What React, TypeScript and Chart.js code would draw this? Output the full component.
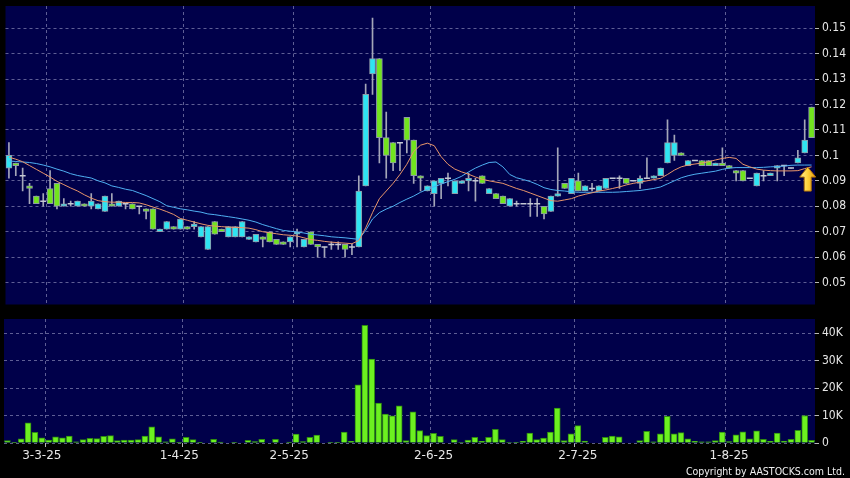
import React, { useEffect, useRef } from "react";
import { Chart, registerables } from "chart.js";
Chart.register(...registerables);

// ---- data ----
const opens = [
  0.095, 0.097, 0.092, 0.088, 0.084, 0.082, 0.087, 0.089, 0.080, 0.081,
  0.080, 0.081, 0.080, 0.079, 0.078, 0.081, 0.080, 0.081, 0.081, 0.080,
  0.079, 0.079, 0.070, 0.071, 0.072, 0.071, 0.072, 0.072, 0.068, 0.063,
  0.074, 0.071, 0.068, 0.068, 0.068, 0.067, 0.066, 0.068, 0.070, 0.067,
  0.066, 0.066, 0.069, 0.064, 0.070, 0.065, 0.064, 0.065, 0.065, 0.065,
  0.064, 0.064, 0.088, 0.132, 0.138, 0.107, 0.105, 0.105, 0.115, 0.106,
  0.092, 0.086, 0.085, 0.089, 0.091, 0.085, 0.089, 0.090, 0.090, 0.092,
  0.085, 0.085, 0.084, 0.080, 0.081, 0.081, 0.081, 0.081, 0.080, 0.078,
  0.084, 0.089, 0.085, 0.090, 0.086, 0.087, 0.086, 0.087, 0.091, 0.091,
  0.091, 0.090, 0.089, 0.091, 0.091, 0.092, 0.097, 0.100, 0.101, 0.096,
  0.098, 0.098, 0.098, 0.096, 0.097, 0.096, 0.094, 0.094, 0.091, 0.088,
  0.092, 0.092, 0.095, 0.096, 0.095, 0.097, 0.101, 0.119,
];
const highs = [
  0.105, 0.097, 0.095, 0.089, 0.084, 0.085, 0.094, 0.089, 0.083, 0.082,
  0.082, 0.081, 0.085, 0.081, 0.084, 0.085, 0.082, 0.081, 0.081, 0.080,
  0.079, 0.079, 0.071, 0.074, 0.072, 0.075, 0.072, 0.074, 0.072, 0.072,
  0.074, 0.071, 0.072, 0.072, 0.074, 0.068, 0.069, 0.068, 0.070, 0.067,
  0.066, 0.068, 0.071, 0.067, 0.070, 0.065, 0.064, 0.066, 0.066, 0.065,
  0.065, 0.092, 0.128, 0.154, 0.138, 0.117, 0.105, 0.105, 0.115, 0.106,
  0.092, 0.088, 0.090, 0.091, 0.093, 0.090, 0.090, 0.093, 0.091, 0.092,
  0.087, 0.085, 0.084, 0.083, 0.082, 0.081, 0.083, 0.083, 0.080, 0.084,
  0.103, 0.089, 0.091, 0.093, 0.088, 0.089, 0.088, 0.091, 0.091, 0.092,
  0.091, 0.090, 0.092, 0.099, 0.092, 0.095, 0.114, 0.108, 0.101, 0.098,
  0.098, 0.098, 0.098, 0.097, 0.103, 0.096, 0.094, 0.094, 0.091, 0.093,
  0.094, 0.093, 0.096, 0.096, 0.095, 0.102, 0.114, 0.119,
];
const lows = [
  0.091, 0.092, 0.086, 0.081, 0.081, 0.080, 0.081, 0.079, 0.080, 0.080,
  0.080, 0.080, 0.079, 0.079, 0.078, 0.080, 0.080, 0.079, 0.079, 0.077,
  0.075, 0.071, 0.070, 0.071, 0.071, 0.071, 0.071, 0.071, 0.068, 0.063,
  0.069, 0.070, 0.068, 0.068, 0.068, 0.067, 0.066, 0.064, 0.066, 0.065,
  0.065, 0.064, 0.064, 0.064, 0.065, 0.060, 0.060, 0.063, 0.063, 0.060,
  0.061, 0.064, 0.088, 0.124, 0.097, 0.091, 0.094, 0.094, 0.101, 0.089,
  0.086, 0.086, 0.080, 0.083, 0.088, 0.085, 0.089, 0.086, 0.082, 0.089,
  0.085, 0.083, 0.081, 0.080, 0.080, 0.081, 0.076, 0.076, 0.075, 0.078,
  0.084, 0.087, 0.085, 0.086, 0.086, 0.086, 0.086, 0.087, 0.091, 0.087,
  0.089, 0.090, 0.087, 0.091, 0.091, 0.092, 0.097, 0.098, 0.100, 0.096,
  0.098, 0.096, 0.096, 0.096, 0.096, 0.095, 0.090, 0.090, 0.091, 0.088,
  0.090, 0.092, 0.090, 0.092, 0.095, 0.097, 0.101, 0.107,
];
const closes = [
  0.100, 0.096, 0.092, 0.087, 0.081, 0.082, 0.081, 0.080, 0.081, 0.081,
  0.082, 0.080, 0.082, 0.081, 0.084, 0.080, 0.082, 0.081, 0.079, 0.080,
  0.078, 0.071, 0.071, 0.074, 0.071, 0.075, 0.071, 0.073, 0.072, 0.072,
  0.069, 0.070, 0.072, 0.072, 0.074, 0.068, 0.069, 0.067, 0.066, 0.065,
  0.065, 0.068, 0.070, 0.067, 0.065, 0.064, 0.064, 0.065, 0.065, 0.063,
  0.064, 0.086, 0.124, 0.138, 0.107, 0.100, 0.097, 0.105, 0.106, 0.092,
  0.091, 0.088, 0.090, 0.091, 0.091, 0.090, 0.090, 0.091, 0.090, 0.089,
  0.087, 0.083, 0.081, 0.083, 0.081, 0.081, 0.081, 0.081, 0.077, 0.084,
  0.085, 0.087, 0.091, 0.086, 0.088, 0.087, 0.088, 0.091, 0.091, 0.091,
  0.089, 0.090, 0.091, 0.091, 0.092, 0.095, 0.105, 0.105, 0.100, 0.098,
  0.098, 0.096, 0.096, 0.097, 0.096, 0.095, 0.093, 0.090, 0.091, 0.093,
  0.092, 0.093, 0.096, 0.096, 0.095, 0.099, 0.106, 0.107,
];
// volume in thousands of shares
const volumesK = [
  0.9, 0.1, 1.5, 7.3, 3.9, 1.9, 1.1, 2.2, 1.9, 2.5,
  0.4, 1.2, 1.7, 1.6, 2.4, 2.7, 0.85, 1.1, 1.1, 1.2,
  2.5, 5.9, 2.2, 0.4, 1.5, 0.1, 2.1, 1.2, 0.05, 0,
  1.3, 0.3, 0, 0.05, 0, 1.0, 0.5, 1.3, 0, 1.3,
  0, 0.3, 3.2, 0.5, 2.1, 2.9, 0, 0.1, 0.1, 4.0,
  0.6, 21.2, 42.8, 30.5, 14.5, 10.5, 9.9, 13.5, 0.85, 11.3,
  4.5, 2.7, 3.5, 2.4, 0, 1.2, 0.2, 1.1, 2.1, 0.6,
  2.1, 5.0, 1.2, 0.2, 0.1, 0.6, 3.6, 1.2, 1.8, 4.0,
  12.7, 0.9, 3.3, 6.3, 0.7, 0, 0, 2.1, 2.5, 2.2,
  0, 0, 0.85, 4.2, 0.4, 3.3, 9.7, 3.3, 3.8, 1.5,
  0.6, 0.4, 0.4, 0.85, 4.0, 0.5, 3.0, 4.1, 1.5, 4.4,
  1.3, 0.6, 3.6, 0.7, 1.3, 4.6, 10.0, 1.0,
];
const maShort = [
  0.0993, 0.0985, 0.0975, 0.0960, 0.0945, 0.0930, 0.0915, 0.0898, 0.0885, 0.0872,
  0.0860, 0.0845, 0.0832, 0.0822, 0.0818, 0.0816, 0.0816, 0.0815, 0.0815, 0.0813,
  0.0806, 0.0797, 0.0789, 0.0779, 0.0768, 0.0752, 0.0745, 0.0738, 0.0731, 0.0725,
  0.0722, 0.0720, 0.0718, 0.0717, 0.0716, 0.0714, 0.0708, 0.0700, 0.0696, 0.0692,
  0.0688, 0.0686, 0.0683, 0.0676, 0.0669, 0.0666, 0.0662, 0.0659, 0.0657, 0.0655,
  0.0653, 0.0665, 0.0715, 0.0775, 0.0830, 0.0860, 0.0890, 0.0925, 0.0965, 0.1015,
  0.1040, 0.1048, 0.1038, 0.0995, 0.0965, 0.0946, 0.0935, 0.0926, 0.0915, 0.0906,
  0.0900, 0.0895, 0.0890, 0.0880, 0.0870, 0.0862, 0.0852, 0.0842, 0.0832, 0.0822,
  0.0820, 0.0825, 0.0830, 0.0840, 0.0847, 0.0853, 0.0860, 0.0864, 0.0870, 0.0876,
  0.0884, 0.0890, 0.0895, 0.0900, 0.0905, 0.0910, 0.0925, 0.0942, 0.0955, 0.0962,
  0.0966, 0.0970, 0.0975, 0.0982, 0.0988, 0.0992, 0.0988, 0.0965, 0.0955, 0.0946,
  0.0942, 0.0940, 0.0939, 0.0939, 0.0939, 0.0940, 0.0948, 0.0955,
];
const maLong = [
  0.0978, 0.0976, 0.0974, 0.0972, 0.0968, 0.0962, 0.0955, 0.0946, 0.0938, 0.0928,
  0.0921, 0.0916, 0.0911, 0.0900, 0.0892, 0.0880, 0.0874, 0.0867, 0.0862, 0.0852,
  0.0842, 0.0830, 0.0818, 0.0802, 0.0796, 0.0790, 0.0786, 0.0781, 0.0777, 0.0770,
  0.0767, 0.0763, 0.0759, 0.0755, 0.0750, 0.0745, 0.0738, 0.0728, 0.0720, 0.0712,
  0.0705, 0.0702, 0.0699, 0.0695, 0.0690, 0.0687, 0.0684, 0.0680, 0.0678, 0.0676,
  0.0673, 0.0670, 0.0705, 0.0750, 0.0775, 0.0789, 0.0800, 0.0815, 0.0828, 0.0840,
  0.0855, 0.0867, 0.0877, 0.0887, 0.0897, 0.0906, 0.0918, 0.0935, 0.0950, 0.0962,
  0.0972, 0.0974, 0.0955, 0.0925, 0.0912, 0.0905, 0.0897, 0.0886, 0.0873, 0.0866,
  0.0862, 0.0860, 0.0857, 0.0855, 0.0855, 0.0855, 0.0855, 0.0855, 0.0855, 0.0856,
  0.0858, 0.0860, 0.0862, 0.0866, 0.0870, 0.0876, 0.0888, 0.0900, 0.0912, 0.0920,
  0.0926, 0.0930, 0.0934, 0.0938, 0.0945, 0.0950, 0.0952, 0.0952, 0.0952, 0.0952,
  0.0953, 0.0955, 0.0956, 0.0958, 0.0961, 0.0962, 0.0962, 0.0962,
];
const priceTicks = [0.05, 0.06, 0.07, 0.08, 0.09, 0.1, 0.11, 0.12, 0.13, 0.14, 0.15];
const volumeTicksK = [0, 10, 20, 30, 40];
const dateLabels = ["3-3-25", "1-4-25", "2-5-25", "2-6-25", "2-7-25", "1-8-25"];
const dateLabelIdx = [5, 25, 41, 62, 83, 105];
const dateGridIdx = [6, 26, 42, 62, 83, 105];
const arrowIdx = 116;
const arrowPrice = 0.0954;

const sessions = opens.map((_, i) => String(i + 1));

// ---- styles ----
const NAVY = "#00004a";
const GRID = "rgba(125,125,175,0.75)";
const CYAN = "#2fe4f2";
const GREEN = "#72e41e";
const BODY_BORDER = "#8e9aa8";
const WICK = "#a4a6b8";
const TEXT = "#e6e6e6";
const AXIS_FONT = { family: "'DejaVu Sans Condensed', 'DejaVu Sans'", size: 12 };

const bgPlugin = {
  id: "panelBg",
  beforeDraw(chart: any) {
    const { ctx, chartArea, width, height } = chart;
    ctx.save();
    ctx.fillStyle = "#000000";
    ctx.fillRect(0, 0, width, height);
    ctx.fillStyle = NAVY;
    ctx.fillRect(chartArea.left, chartArea.top, chartArea.right - chartArea.left, chartArea.bottom - chartArea.top);
    ctx.restore();
  },
};

const arrowPlugin = {
  id: "arrowMark",
  afterDatasetsDraw(chart: any) {
    const { ctx, scales } = chart;
    const x = scales.x.getPixelForValue(arrowIdx) + 3;
    const y = scales.y.getPixelForValue(arrowPrice);
    ctx.save();
    const g = ctx.createLinearGradient(x - 8, 0, x + 8, 0);
    g.addColorStop(0, "#fff2a0");
    g.addColorStop(0.5, "#ffd23a");
    g.addColorStop(1, "#e39a10");
    ctx.fillStyle = g;
    ctx.strokeStyle = "#b07008";
    ctx.lineWidth = 1;
    ctx.beginPath();
    ctx.moveTo(x, y);
    ctx.lineTo(x + 8, y + 10);
    ctx.lineTo(x + 3.5, y + 10);
    ctx.lineTo(x + 3.5, y + 24);
    ctx.lineTo(x - 3.5, y + 24);
    ctx.lineTo(x - 3.5, y + 10);
    ctx.lineTo(x - 8, y + 10);
    ctx.closePath();
    ctx.fill();
    ctx.stroke();
    ctx.restore();
  },
};

const gridColorFn = (ctx: any) => (dateGridIdx.includes(ctx.index) ? GRID : "rgba(0,0,0,0)");

const fixRightAxis = (s: any) => {
  s.width = 35;
  s.paddingTop = 0;
  s.paddingBottom = 0;
};

export default function App() {
  const priceRef = useRef<HTMLCanvasElement>(null);
  const volRef = useRef<HTMLCanvasElement>(null);

  useEffect(() => {
    const isDoji = opens.map((o, i) => o === closes[i]);
    const price = new Chart(priceRef.current!, {
      type: "bar",
      data: {
        labels: sessions,
        datasets: [
          {
            type: "line",
            data: maShort,
            borderColor: "#e8956a",
            borderWidth: 1,
            pointRadius: 0,
            order: 0,
          } as any,
          {
            type: "line",
            data: maLong,
            borderColor: "#4fb0f2",
            borderWidth: 1,
            pointRadius: 0,
            order: 0,
          } as any,
          {
            type: "line",
            data: opens.map((o, i) => (isDoji[i] ? o : null)),
            showLine: false,
            pointStyle: "line",
            pointRadius: 3,
            pointBorderWidth: 1.5,
            pointBorderColor: "#c4c8d4",
            borderColor: "#c4c8d4",
            order: 1,
          } as any,
          {
            type: "bar",
            data: opens.map((o, i) => (isDoji[i] ? null : [o, closes[i]])),
            backgroundColor: opens.map((o, i) => (closes[i] > o ? CYAN : GREEN)),
            borderColor: BODY_BORDER,
            borderWidth: 1,
            borderSkipped: false,
            barThickness: 6,
            grouped: false,
            order: 2,
          } as any,
          {
            type: "bar",
            data: lows.map((l, i) => [l, highs[i]]),
            backgroundColor: WICK,
            borderWidth: 0,
            barThickness: 1,
            grouped: false,
            order: 3,
          } as any,
        ],
      },
      options: {
        responsive: false,
        animation: false,
        layout: { padding: { left: 4, top: 6, bottom: 4, right: 0 } },
        plugins: { legend: { display: false }, tooltip: { enabled: false } },
        scales: {
          x: {
            type: "category",
            offset: true,
            grid: { offset: true, color: gridColorFn, drawTicks: false, lineWidth: 1 },
            border: { display: false, dash: [3, 3] },
            ticks: { display: false, autoSkip: false },
            afterFit: (s: any) => {
              s.height = 0;
              s.paddingLeft = 0;
              s.paddingRight = 0;
            },
          },
          y: {
            position: "right",
            min: 0.0414,
            max: 0.1587,
            afterBuildTicks: (s: any) => {
              s.ticks = priceTicks.map((v) => ({ value: v }));
            },
            grid: { color: GRID, drawTicks: true, tickLength: 4, tickColor: "#b8b8b8", tickWidth: 1 },
            border: { display: false, dash: [3, 3] },
            ticks: {
              color: TEXT,
              font: AXIS_FONT,
              padding: 3,
              callback: (v: any) => String(parseFloat(Number(v).toFixed(2))),
            },
            afterFit: fixRightAxis,
          },
        },
      } as any,
      plugins: [bgPlugin, arrowPlugin],
    });

    const vol = new Chart(volRef.current!, {
      type: "bar",
      data: {
        labels: sessions,
        datasets: [
          {
            data: volumesK,
            backgroundColor: "#6cf020",
            borderColor: "#2e8c10",
            borderWidth: 1,
            borderSkipped: "bottom",
            barThickness: 6,
          },
        ],
      },
      options: {
        responsive: false,
        animation: false,
        layout: { padding: { left: 4, top: 9, bottom: 0, right: 0 } },
        plugins: { legend: { display: false }, tooltip: { enabled: false } },
        scales: {
          x: {
            type: "category",
            offset: true,
            grid: {
              offset: true,
              color: gridColorFn,
              drawTicks: true,
              tickLength: 4,
              tickColor: (ctx: any) => (dateGridIdx.includes(ctx.index) ? "#b8b8b8" : "rgba(0,0,0,0)"),
            },
            border: { display: false, dash: [3, 3] },
            ticks: {
              autoSkip: false,
              maxRotation: 0,
              minRotation: 0,
              color: TEXT,
              padding: 2,
              font: { family: "'DejaVu Sans'", size: 12 },
              callback: (_v: any, i: number) => {
                const k = dateLabelIdx.indexOf(i);
                return k >= 0 ? dateLabels[k] : "";
              },
            },
            afterFit: (s: any) => {
              s.height = 35;
              s.paddingLeft = 0;
              s.paddingRight = 0;
            },
          },
          y: {
            position: "right",
            min: 0,
            max: 45.1,
            afterBuildTicks: (s: any) => {
              s.ticks = volumeTicksK.map((v) => ({ value: v }));
            },
            grid: { color: GRID, drawTicks: true, tickLength: 4, tickColor: "#b8b8b8", tickWidth: 1 },
            border: { display: false, dash: [3, 3] },
            ticks: {
              color: TEXT,
              font: AXIS_FONT,
              padding: 3,
              callback: (v: any) => (Number(v) === 0 ? "0" : `${v}K`),
            },
            afterFit: fixRightAxis,
          },
        },
      } as any,
      plugins: [bgPlugin],
    });

    return () => {
      price.destroy();
      vol.destroy();
    };
  }, []);

  return (
    <div style={{ position: "fixed", left: 0, top: 0, width: 850, height: 478, background: "#000", overflow: "hidden" }}>
      <canvas ref={priceRef} width={850} height={310} style={{ position: "absolute", left: 0, top: 0, width: 850, height: 310 }} />
      <canvas ref={volRef} width={850} height={168} style={{ position: "absolute", left: 0, top: 310, width: 850, height: 168 }} />
      <div
        style={{
          position: "absolute",
          right: 5,
          top: 464,
          color: "#f0f0f0",
          fontFamily: "'DejaVu Sans Condensed', 'DejaVu Sans', sans-serif",
          fontSize: 10.5,
          lineHeight: "14px",
          whiteSpace: "nowrap",
        }}
      >
        Copyright by AASTOCKS.com Ltd.
      </div>
    </div>
  );
}
